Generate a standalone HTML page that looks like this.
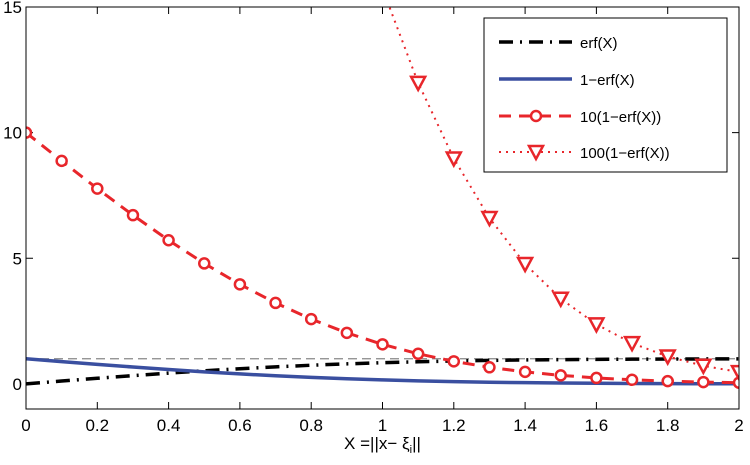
<!DOCTYPE html>
<html><head><meta charset="utf-8"><style>
body{margin:0;background:#fff}
svg{display:block;font-family:"Liberation Sans",Arial,sans-serif}
</style></head><body>
<svg id="chart" width="750" height="465" viewBox="0 0 750 465" xmlns="http://www.w3.org/2000/svg"></svg>
<script>
const xs = [0,0.1,0.2,0.3,0.4,0.5,0.6,0.7,0.8,0.9,1.0,1.1,1.2,1.3,1.4,1.5,1.6,1.7,1.8,1.9,2.0];
const erfVals = [0,0.1125,0.2227,0.3286,0.4284,0.5205,0.6039,0.6778,0.7421,0.7969,0.8427,0.8802,0.9103,0.9340,0.9523,0.9661,0.9763,0.9838,0.9891,0.9928,0.9953];
const erfcVals = [1,0.8875,0.7773,0.6714,0.5716,0.4795,0.3961,0.3222,0.2579,0.2031,0.1573,0.1198,0.0897,0.0660,0.0477,0.0339,0.0237,0.0162,0.0109,0.0072,0.0047];
const erfc10Vals = [10,8.875,7.773,6.714,5.716,4.795,3.961,3.222,2.579,2.031,1.573,1.198,0.897,0.660,0.477,0.339,0.237,0.162,0.109,0.072,0.047];
const erfc100Vals = [100,88.75,77.73,67.14,57.16,47.95,39.61,32.22,25.79,20.31,15.73,11.98,8.97,6.60,4.77,3.39,2.37,1.62,1.09,0.72,0.47];
const xTicks = [0,0.2,0.4,0.6,0.8,1,1.2,1.4,1.6,1.8,2];
const yTicks = [0,5,10,15];
const legendLabels = ["erf(X)","1\u2212erf(X)","10(1\u2212erf(X))","100(1\u2212erf(X))"];

const L=26,R=739,T=7,B=409,xMin=0,xMax=2,yMin=-1,yMax=15;
const sx=v=>L+(v-xMin)/(xMax-xMin)*(R-L);
const sy=v=>B-(v-yMin)/(yMax-yMin)*(B-T);
const svg=document.getElementById('chart');
const NS='http://www.w3.org/2000/svg';
function mk(tag,attrs,parent){const e=document.createElementNS(NS,tag);for(const k in attrs)e.setAttribute(k,attrs[k]);(parent||svg).appendChild(e);return e;}

const defs=mk('defs',{});
const cp=mk('clipPath',{id:'clip'},defs);
mk('rect',{x:L,y:T,width:R-L,height:B-T},cp);

xTicks.forEach(t=>{
  const a=mk('line',{x1:sx(t),x2:sx(t),y1:B,y2:B-7,stroke:'#000','stroke-width':1});
  
  
  const b=mk('line',{x1:sx(t),x2:sx(t),y1:T,y2:T+7,stroke:'#000','stroke-width':1});
  
  
  const tx=mk('text',{x:sx(t),y:B+22,'text-anchor':'middle','font-size':17});
  tx.textContent=String(t);
  
  
});
yTicks.forEach(t=>{
  const a=mk('line',{x1:L,x2:L+7,y1:sy(t),y2:sy(t),stroke:'#000','stroke-width':1});
  
  
  const b=mk('line',{x1:R,x2:R-7,y1:sy(t),y2:sy(t),stroke:'#000','stroke-width':1});
  
  
  const tx=mk('text',{x:L-4,y:sy(t)+6,'text-anchor':'end','font-size':17});
  tx.textContent=String(t);
  
  
});

const g=mk('g',{'clip-path':'url(#clip)'});
const ref=mk('line',{x1:L,x2:R,y1:sy(1),y2:sy(1),stroke:'#888','stroke-width':1.3,'stroke-dasharray':'9,5'},g);



function pts(vals){return xs.map((x,i)=>sx(x)+','+sy(vals[i])).join(' ');}
const s1=mk('polyline',{points:pts(erfVals),fill:'none',stroke:'#000','stroke-width':3.5,'stroke-dasharray':'14,7,2,7'},g);


const s2=mk('polyline',{points:pts(erfcVals),fill:'none',stroke:'#3a4fa0','stroke-width':3.5},g);


const s3=mk('polyline',{points:pts(erfc10Vals),fill:'none',stroke:'#e8262b','stroke-width':3,'stroke-dasharray':'12,8'},g);


const s4=mk('polyline',{points:pts(erfc100Vals),fill:'none',stroke:'#e8262b','stroke-width':2,'stroke-dasharray':'2,5'},g);


xs.forEach((x,i)=>{
  const c=mk('circle',{cx:sx(x),cy:sy(erfc10Vals[i]),r:5,fill:'#fff',stroke:'#e8262b','stroke-width':2.5},g);
  
  
  const v=erfc100Vals[i];
  if(v<=yMax){
    const X=sx(x),Y=sy(v);
    const p=mk('polygon',{points:`${X-7},${Y-6} ${X+7},${Y-6} ${X},${Y+7}`,fill:'#fff',stroke:'#e8262b','stroke-width':2.5},g);
    
    
  }
});

const box=mk('rect',{x:L,y:T,width:R-L,height:B-T,fill:'none',stroke:'#000','stroke-width':1});



const lg=mk('g',{});


mk('rect',{x:484,y:18,width:243,height:154,fill:'#fff',stroke:'#000','stroke-width':1},lg);
const ly=[42,79,116,152];
const styles=[
 {stroke:'#000','stroke-width':3.5,'stroke-dasharray':'14,7,2,7'},
 {stroke:'#3a4fa0','stroke-width':3.5},
 {stroke:'#e8262b','stroke-width':3,'stroke-dasharray':'12,8'},
 {stroke:'#e8262b','stroke-width':2,'stroke-dasharray':'2,5'}];
legendLabels.forEach((lab,i)=>{
  const e=mk('g',{},lg);
  
  
  mk('line',Object.assign({x1:499,x2:572,y1:ly[i],y2:ly[i]},styles[i]),e);
  if(i===2) mk('circle',{cx:536,cy:ly[i],r:5,fill:'#fff',stroke:'#e8262b','stroke-width':2.5},e);
  if(i===3) mk('polygon',{points:`529,${ly[i]-6} 543,${ly[i]-6} 536,${ly[i]+7}`,fill:'#fff',stroke:'#e8262b','stroke-width':2.5},e);
  const t=mk('text',{x:580,y:ly[i]+6,'font-size':15},e);
  t.textContent=lab;
});

const xt=mk('text',{x:sx(1),y:449,'text-anchor':'middle','font-size':17});


xt.innerHTML='X =||x\u2212 \u03BE<tspan font-size="11" dy="4">i</tspan><tspan dy="-4">||</tspan>';
</script>
</body></html>
